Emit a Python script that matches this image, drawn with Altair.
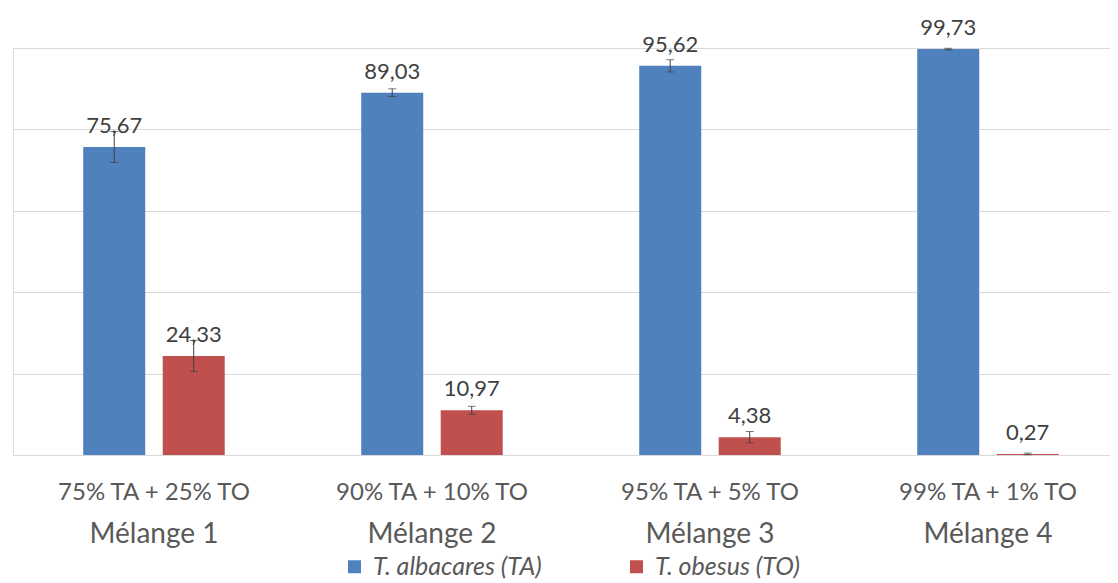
import altair as alt
import pandas as pd

groups = ["Mélange 1", "Mélange 2", "Mélange 3", "Mélange 4"]
mixes = ["75% TA + 25% TO", "90% TA + 10% TO", "95% TA + 5% TO", "99% TA + 1% TO"]
species = ["T. albacares  (TA)", "T. obesus  (TO)"]
ta_values = [75.67, 89.03, 95.62, 99.73]
to_values = [24.33, 10.97, 4.38, 0.27]
ta_err = [3.8, 0.95, 1.5, 0.2]
to_err = [3.8, 1.0, 1.4, 0.2]
colors = ["#4F81BD", "#C0504D"]

def fmt(v):
    return f"{v:.2f}".replace(".", ",")

rows = []
for i in range(len(groups)):
    for sp, vals, errs in [(species[0], ta_values, ta_err), (species[1], to_values, to_err)]:
        rows.append(dict(mix=mixes[i], group=groups[i], species=sp, value=vals[i],
                         lo=vals[i] - errs[i], hi=vals[i] + errs[i], label=fmt(vals[i])))
df = pd.DataFrame(rows)
mel_df = pd.DataFrame({"mix": mixes, "group": groups})

FONT = "Lato"
W, H = 1097, 407

x_enc = alt.X("mix:N", sort=mixes,
              scale=alt.Scale(paddingInner=0.491, paddingOuter=0.2185, align=0.578),
              axis=alt.Axis(title=None, domain=False, ticks=False, tickSize=0, labelAngle=0,
                            labelPadding=44, labelBaseline="alphabetic", labelFontSize=24,
                            labelColor="#595959", labelFont=FONT, labelLimit=400))
xoff = alt.XOffset("species:N", sort=species,
                   scale=alt.Scale(domain=species, paddingInner=0.22, paddingOuter=0))
y_scale = alt.Scale(domain=[0, 100], nice=False)
y_enc = alt.Y("value:Q", scale=y_scale,
              axis=alt.Axis(title=None, labels=False, ticks=False, domain=False,
                            values=[0, 20, 40, 60, 80, 100], gridColor="#D9D9D9", gridWidth=1))

base = alt.Chart(df)

bars = base.mark_bar().encode(
    x=x_enc, xOffset=xoff, y=y_enc,
    color=alt.Color("species:N", scale=alt.Scale(domain=species, range=colors),
                    legend=alt.Legend(title=None, orient="none", legendX=329, legendY=506,
                                      direction="horizontal", symbolType="square",
                                      symbolSize=169, symbolStrokeWidth=0, labelFontSize=25,
                                      labelFontStyle="italic", labelColor="#595959",
                                      labelFont=FONT, columnPadding=76, labelOffset=6,
                                      labelLimit=400))
)

rules = base.mark_rule(color="#404040", strokeWidth=1).encode(
    x=alt.X("mix:N", sort=mixes), xOffset=xoff,
    y=alt.Y("lo:Q", scale=y_scale), y2="hi:Q")
cap_hi = base.mark_tick(color="#404040", thickness=1, size=8).encode(
    x=alt.X("mix:N", sort=mixes), xOffset=xoff, y=alt.Y("hi:Q", scale=y_scale))
cap_lo = base.mark_tick(color="#404040", thickness=1, size=8).encode(
    x=alt.X("mix:N", sort=mixes), xOffset=xoff, y=alt.Y("lo:Q", scale=y_scale))

labels = base.mark_text(baseline="alphabetic", dy=-14, fontSize=22, color="#404040",
                        font=FONT).encode(
    x=alt.X("mix:N", sort=mixes), xOffset=xoff, y=alt.Y("value:Q", scale=y_scale),
    text="label:N")

mel = alt.Chart(mel_df).mark_text(baseline="alphabetic", fontSize=28, color="#595959",
                                  font=FONT).encode(
    x=alt.X("mix:N", sort=mixes), y=alt.value(495), text="group:N")

chart = alt.layer(bars, rules, cap_hi, cap_lo, labels, mel).properties(
    width=W, height=H,
    padding={"left": 5, "top": 40, "right": 0, "bottom": 126},
    autosize=alt.AutoSizeParams(type="none"),
).configure_view(stroke=None).configure(font=FONT)

chart.save("out.html", embed_options={"renderer": "svg", "actions": False})
